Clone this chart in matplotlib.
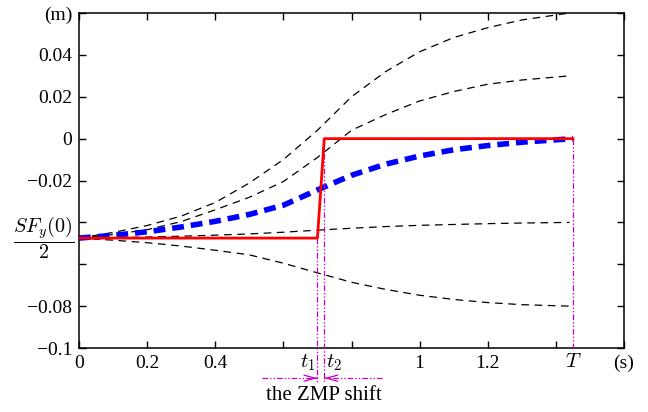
import numpy as np
import matplotlib
matplotlib.use('Agg')
from matplotlib import pyplot as plt
from matplotlib.transforms import blended_transform_factory

plt.rcParams['font.family'] = ['Liberation Serif', 'DejaVu Serif']
plt.rcParams['mathtext.fontset'] = 'cm'
plt.rcParams['lines.scale_dashes'] = False

#-----data------------------------------------------------------------------
t1, t2, T = 0.70, 0.72, 1.45
y0 = -0.0475          # SF_y(0)/2

# ZMP reference (red)
zmp_t = [0, t1, t2, T]
zmp_y = [y0, y0, 0.0, 0.0]

# CoM trajectory (blue)
com_t = [0, 0.1, 0.2, 0.3, 0.4, 0.5, 0.6, 0.7, 0.8, 0.9, 1.0, 1.1, 1.2, 1.3, 1.45]
com_y = [y0, -0.0462, -0.0445, -0.0422, -0.0395, -0.0362, -0.0318, -0.0245,
         -0.0175, -0.0122, -0.0083, -0.0053, -0.0033, -0.0017, 0.0]

# other trajectories (black dashed)
oth_t = [0, 0.1, 0.2, 0.3, 0.4, 0.5, 0.6, 0.7, 0.8, 0.9, 1.0, 1.1, 1.2, 1.3, 1.44]
oth_y = [
    [y0, -0.0448, -0.0415, -0.0370, -0.0305, -0.0212, -0.0100, 0.0040,
     0.0200, 0.0320, 0.0415, 0.0483, 0.0530, 0.0567, 0.0600],
    [y0, -0.0458, -0.0435, -0.0396, -0.0340, -0.0280, -0.0205, -0.0090,
     0.0040, 0.0115, 0.0180, 0.0225, 0.0260, 0.0280, 0.0300],
    [y0, -0.0473, -0.0470, -0.0466, -0.0461, -0.0455, -0.0447, -0.0437,
     -0.0428, -0.0420, -0.0414, -0.0410, -0.0406, -0.0403, -0.0400],
    [y0, -0.0485, -0.0497, -0.0513, -0.0533, -0.0555, -0.0595, -0.0641,
     -0.0686, -0.0720, -0.0748, -0.0768, -0.0783, -0.0793, -0.0800],
]

xticks = [0, 0.2, 0.4, 0.6, 0.8, 1.0, 1.2, 1.4, 1.6]
xlabels = ['0', '0.2', '0.4', '', '', '1', '1.2', '', '(s)']
yticks = [-0.1, -0.08, -0.06, -0.04, -0.02, 0, 0.02, 0.04, 0.06]
ylabels = ['\u22120.1', '\u22120.08', '', '', '\u22120.02', '0', '0.02', '0.04', '(m)']

#-----figure----------------------------------------------------------------
fig = plt.figure(figsize=(6.48, 4.12), dpi=100)
ax = fig.add_axes([0.1219, 0.1553, 0.963 - 0.1219, 0.9684 - 0.1553])

for ys in oth_y:
    ax.plot(oth_t, ys, color='k', lw=0.9, dashes=(5.5, 4))
ax.plot(com_t, com_y, color='#0000ff', lw=4, dashes=(8.5, 5))
ax.plot(zmp_t, zmp_y, color='#ff0000', lw=2, zorder=4)

mag = '#c400c4'
dd = (4, 1.5, 1, 1.5, 1, 1.5)
ylow = -0.1163
ax.plot([t1, t1], [y0, ylow], color=mag, lw=0.9, dashes=dd, clip_on=False, zorder=3)
ax.plot([t2, t2], [0, ylow], color=mag, lw=0.9, dashes=dd, clip_on=False, zorder=3)
ax.plot([T, T], [0, -0.1], color=mag, lw=0.9, dashes=dd, clip_on=False, zorder=3)

# the ZMP shift arrows
ya = -0.1144
ax.plot([0.537, t1], [ya, ya], color=mag, lw=0.9, dashes=dd, clip_on=False)
ax.plot([0.89, t2], [ya, ya], color=mag, lw=0.9, dashes=dd, clip_on=False)
ax.annotate('', xy=(t1, ya), xytext=(t1 - 0.001, ya), annotation_clip=False,
            arrowprops=dict(arrowstyle='->,head_length=0.8,head_width=0.22',
                            color=mag, lw=0.9, shrinkA=0, shrinkB=0))
ax.annotate('', xy=(t2, ya), xytext=(t2 + 0.001, ya), annotation_clip=False,
            arrowprops=dict(arrowstyle='->,head_length=0.8,head_width=0.22',
                            color=mag, lw=0.9, shrinkA=0, shrinkB=0))

ax.set_xlim(0, 1.6)
ax.set_ylim(-0.1, 0.06)
ax.set_xticks(xticks, xlabels)
ax.set_yticks(yticks, ylabels)
ax.tick_params(direction='in', top=True, right=True, length=5, width=1,
               labelsize=14, pad=5)
for s in ax.spines.values():
    s.set_linewidth(1.1)

trx = blended_transform_factory(ax.transData, ax.transAxes)
try_ = blended_transform_factory(ax.transAxes, ax.transData)
ax.text(t1 - 0.005, -0.043, '$t_1$', transform=trx, ha='right', va='center', fontsize=15)
ax.text(t2 + 0.005, -0.043, '$t_2$', transform=trx, ha='left', va='center', fontsize=15)
ax.text(T, -0.043, '$T$', transform=trx, ha='center', va='center', fontsize=15)
ax.text(-0.008, y0, r'$\dfrac{SF_y(0)}{2}$', transform=try_, ha='right', va='center',
        fontsize=14.5)
ax.text(0.718, -0.142, 'the ZMP shift', transform=trx, ha='center', va='center',
        fontsize=15)

fig.savefig('out.png', dpi=100)
